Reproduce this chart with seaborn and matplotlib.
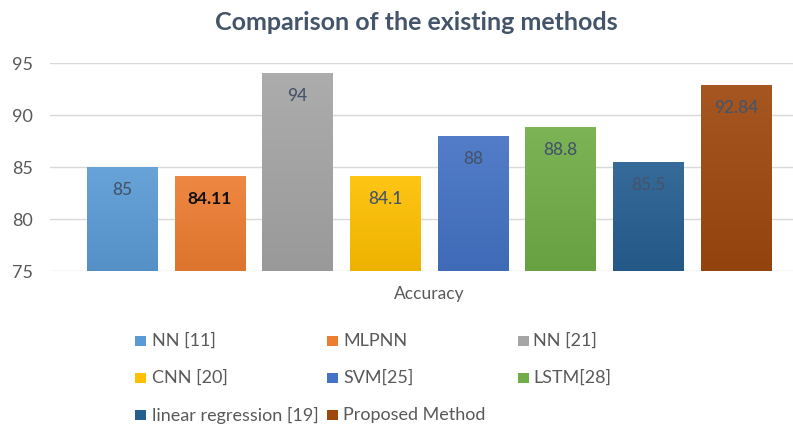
import numpy as np
import pandas as pd
import seaborn as sns
import matplotlib.pyplot as plt
from matplotlib.colors import to_rgb
from matplotlib.patches import Rectangle

# Data
methods = ["NN [11]", "MLPNN", "NN [21]", "CNN [20]", "SVM[25]", "LSTM[28]",
           "linear regression [19]", "Proposed Method"]
accuracy = [85, 84.11, 94, 84.1, 88, 88.8, 85.5, 92.84]
palette = ["#5B9BD5", "#ED7D31", "#A5A5A5", "#FFC000", "#4472C4", "#70AD47",
           "#255E91", "#9E480E"]
group_label = "Accuracy"
y_ticks = [75, 80, 85, 90, 95]
title = "Comparison of the existing methods"
bold_labels = {"MLPNN"}

W, H = 793, 426

sns.set_theme(style="white")
plt.rcParams["font.family"] = ["Lato", "DejaVu Sans"]

df = pd.DataFrame({"metric": [group_label] * len(methods),
                   "method": methods,
                   "accuracy": accuracy})

fig = plt.figure(figsize=(W / 100, H / 100), dpi=100)
ax = fig.add_axes([50 / W, 1 - 271 / H, 1 - 50 / W, (271 - 63) / H])

sns.barplot(data=df, x="metric", y="accuracy", hue="method", hue_order=methods,
            palette=palette, saturation=1, width=0.8, gap=0.2, linewidth=0,
            legend=False, ax=ax)

ymin, ymax = y_ticks[0], y_ticks[-1]


def shade(c, f):
    c = np.array(to_rgb(c))
    if f >= 0:
        return c + (1 - c) * f
    return c * (1 + f)


# vertical gradient fill on each bar, lighter at the top
for cont, color in zip(ax.containers, palette):
    for patch in cont:
        x, w, h = patch.get_x(), patch.get_width(), patch.get_height()
        top, bot = shade(color, 0.08), shade(color, -0.07)
        t = np.linspace(0, 1, 128)[:, None, None]
        grad = top * (1 - t) + bot * t
        im = ax.imshow(grad, extent=[x, x + w, ymin, h], aspect="auto",
                       origin="upper", zorder=patch.get_zorder() + 0.1,
                       interpolation="bilinear")
        im.set_clip_path(patch)

# value labels inside the top of each bar
for cont, name, val in zip(ax.containers, methods, accuracy):
    patch = cont[0]
    bold = name in bold_labels
    ax.annotate(f"{val:g}", (patch.get_x() + patch.get_width() / 2, val),
                xytext=(0, -23), textcoords="offset pixels",
                ha="center", va="center", fontsize=12.5,
                fontweight="bold" if bold else "medium",
                color="#111111" if bold else "#44546A", zorder=5)

ax.set_xlim(-0.432, 0.415)
ax.set_ylim(ymin, ymax)
ax.set_yticks(y_ticks)
ax.yaxis.grid(True, color="#D9D9D9", linewidth=1)
ax.set_axisbelow(True)
for s in ax.spines.values():
    s.set_visible(False)
ax.set_xlabel("")
ax.set_ylabel("")
ax.tick_params(axis="y", length=0, pad=12, labelsize=13, labelcolor="#595959")
ax.tick_params(axis="x", length=0, pad=11, labelsize=12.5, labelcolor="#595959")

fig.text(416 / W, 1 - 23 / H, title, ha="center", va="center",
         fontsize=18, fontweight="bold", color="#44546A")

# legend laid out in three columns below the plot
marker_x = [135, 327, 518]
text_x = [152, 343, 533]
row_y = [341, 378, 415]
for i, (name, color) in enumerate(zip(methods, palette)):
    r, c = divmod(i, 3)
    fig.patches.append(Rectangle((marker_x[c] / W, 1 - (row_y[r] + 5) / H),
                                 11 / W, 10 / H, transform=fig.transFigure,
                                 facecolor=color, edgecolor="none"))
    fig.text(text_x[c] / W, 1 - row_y[r] / H, name, ha="left", va="center",
             fontsize=13, color="#595959")

fig.savefig("out.png", dpi=100)
